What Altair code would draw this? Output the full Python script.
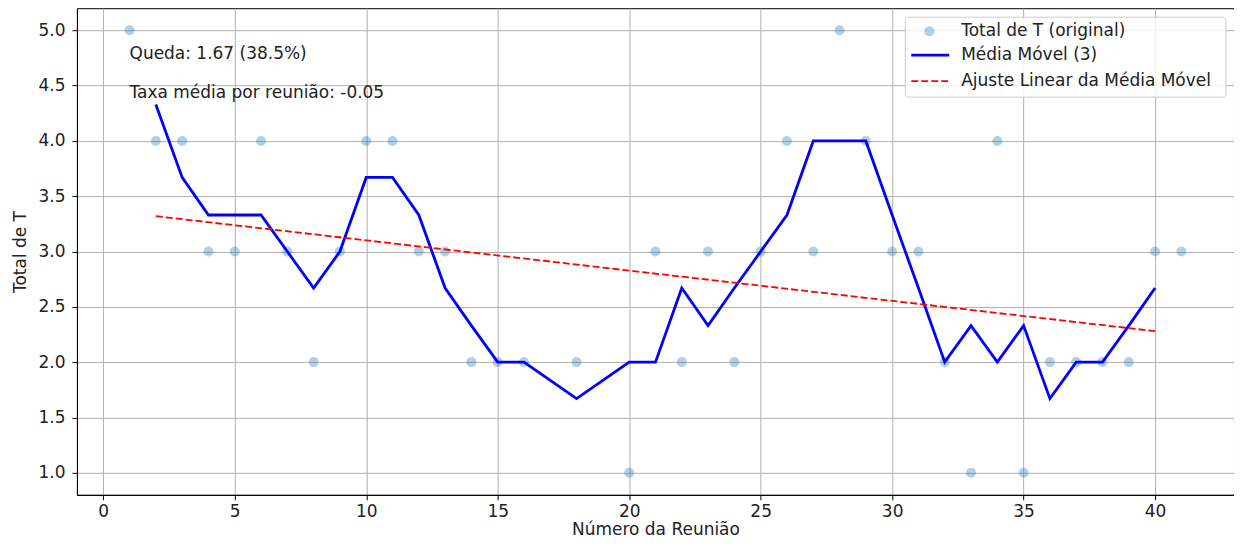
import altair as alt
import pandas as pd

meetings = [1, 2, 3, 4, 5, 6, 7, 8, 9, 10, 11, 12, 13, 14, 15, 16, 18, 20, 21, 22,
            23, 24, 25, 26, 27, 28, 29, 30, 31, 32, 33, 34, 35, 36, 37, 38, 39, 40, 41]
totals = [5, 4, 4, 3, 3, 4, 3, 2, 3, 4, 4, 3, 3, 2, 2, 2, 2, 1, 3, 2,
          3, 2, 3, 4, 3, 5, 4, 3, 3, 2, 1, 4, 1, 2, 2, 2, 2, 3, 3]

ma_x = [2, 3, 4, 5, 6, 7, 8, 9, 10, 11, 12, 13, 14, 15, 16, 18, 20, 21, 22,
        23, 24, 25, 26, 27, 28, 29, 30, 31, 32, 33, 34, 35, 36, 37, 38, 39, 40]
ma_vals = [4.33, 3.67, 3.33, 3.33, 3.33, 3.0, 2.67, 3.0, 3.67, 3.67, 3.33, 2.67, 2.33,
           2.0, 2.0, 1.67, 2.0, 2.0, 2.67, 2.33, 2.67, 3.0, 3.33, 4.0, 4.0, 4.0, 3.33,
           2.67, 2.0, 2.33, 2.0, 2.33, 1.67, 2.0, 2.0, 2.33, 2.67]

fit_x = [2, 40]
fit_y = [3.32, 2.28]

notes_x = [1, 1]
notes_y = [4.74, 4.39]
notes_text = ["Queda: 1.67 (38.5%)", "Taxa média por reunião: -0.05"]

legend_labels = ["Total de T (original)", "Média Móvel (3)", "Ajuste Linear da Média Móvel"]

FONT = "DejaVu Sans"
FS = 17

pts = pd.DataFrame({"x": meetings, "y": totals})
ma = pd.DataFrame({"x": ma_x, "y": ma_vals})
fit = pd.DataFrame({"x": fit_x, "y": fit_y})
notes = pd.DataFrame({"x": notes_x, "y": notes_y, "t": notes_text})
one = pd.DataFrame({"a": [0]})

xs = alt.Scale(domain=[-1, 43], nice=False, zero=False)
ys = alt.Scale(domain=[0.8, 5.2], nice=False, zero=False)

xax = alt.Axis(values=[0, 5, 10, 15, 20, 25, 30, 35, 40], title="Número da Reunião",
               grid=True, gridColor="#b0b0b0", gridWidth=1, domainColor="black",
               tickColor="black", tickSize=5, labelFontSize=FS, titleFontSize=FS,
               labelFont=FONT, titleFont=FONT, labelColor="#222222", titleColor="#222222",
               titleFontWeight="normal", labelPadding=4, titleBaseline="alphabetic",
               titleY=40, labelFlush=False)
yax = alt.Axis(values=[1.0, 1.5, 2.0, 2.5, 3.0, 3.5, 4.0, 4.5, 5.0], format=".1f",
               title="Total de T", grid=True, gridColor="#b0b0b0", gridWidth=1,
               domainColor="black", tickColor="black", tickSize=5, labelFontSize=FS,
               titleFontSize=FS, labelFont=FONT, titleFont=FONT, labelColor="#222222",
               titleColor="#222222", titleFontWeight="normal", labelPadding=7,
               titlePadding=8, labelFlush=False)

scatter = alt.Chart(pts).mark_circle(size=100, color="#1f77b4", opacity=0.35).encode(
    x=alt.X("x:Q", scale=xs, axis=xax),
    y=alt.Y("y:Q", scale=ys, axis=yax),
)

ma_line = alt.Chart(ma).mark_line(color="#0000ff", strokeWidth=2.8).encode(
    x=alt.X("x:Q", scale=xs), y=alt.Y("y:Q", scale=ys)
)

fit_line = alt.Chart(fit).mark_line(color="#ff0000", strokeWidth=1.8, strokeDash=[7, 3]).encode(
    x=alt.X("x:Q", scale=xs), y=alt.Y("y:Q", scale=ys)
)

note_marks = alt.Chart(notes).mark_text(align="left", baseline="alphabetic", font=FONT,
                                        fontSize=FS, color="#222222").encode(
    x=alt.X("x:Q", scale=xs), y=alt.Y("y:Q", scale=ys), text="t:N"
)

# legend
leg_box = alt.Chart(one).mark_rect(fill="white", fillOpacity=0.8, stroke="#cccccc",
                                   strokeWidth=1, cornerRadius=3).encode(
    x=alt.value(829), x2=alt.value(1150), y=alt.value(9), y2=alt.value(89)
)
leg_pt = alt.Chart(one).mark_circle(size=100, color="#1f77b4", opacity=0.35).encode(
    x=alt.value(853), y=alt.value(23)
)
leg_l1 = alt.Chart(one).mark_rule(color="#0000ff", strokeWidth=2.8).encode(
    x=alt.value(835), x2=alt.value(873), y=alt.value(47)
)
leg_l2 = alt.Chart(one).mark_rule(color="#ff0000", strokeWidth=1.8, strokeDash=[7, 3]).encode(
    x=alt.value(835), x2=alt.value(873), y=alt.value(73)
)
leg_texts = []
for lab, yy in zip(legend_labels, [23, 47, 73]):
    leg_texts.append(
        alt.Chart(one).mark_text(align="left", baseline="middle", font=FONT, fontSize=FS,
                                 color="#222222", text=lab).encode(
            x=alt.value(885), y=alt.value(yy)
        )
    )

chart = alt.layer(scatter, ma_line, fit_line, note_marks, leg_box, leg_pt, leg_l1, leg_l2,
                  *leg_texts).properties(
    width=1158, height=487,
    autosize=alt.AutoSizeParams(type="none"),
    padding={"left": 69, "top": 0, "right": 0, "bottom": 44},
    background="white",
).configure_view(stroke="black", strokeWidth=1)

chart.save("out.html", embed_options={"renderer": "svg", "actions": False})
